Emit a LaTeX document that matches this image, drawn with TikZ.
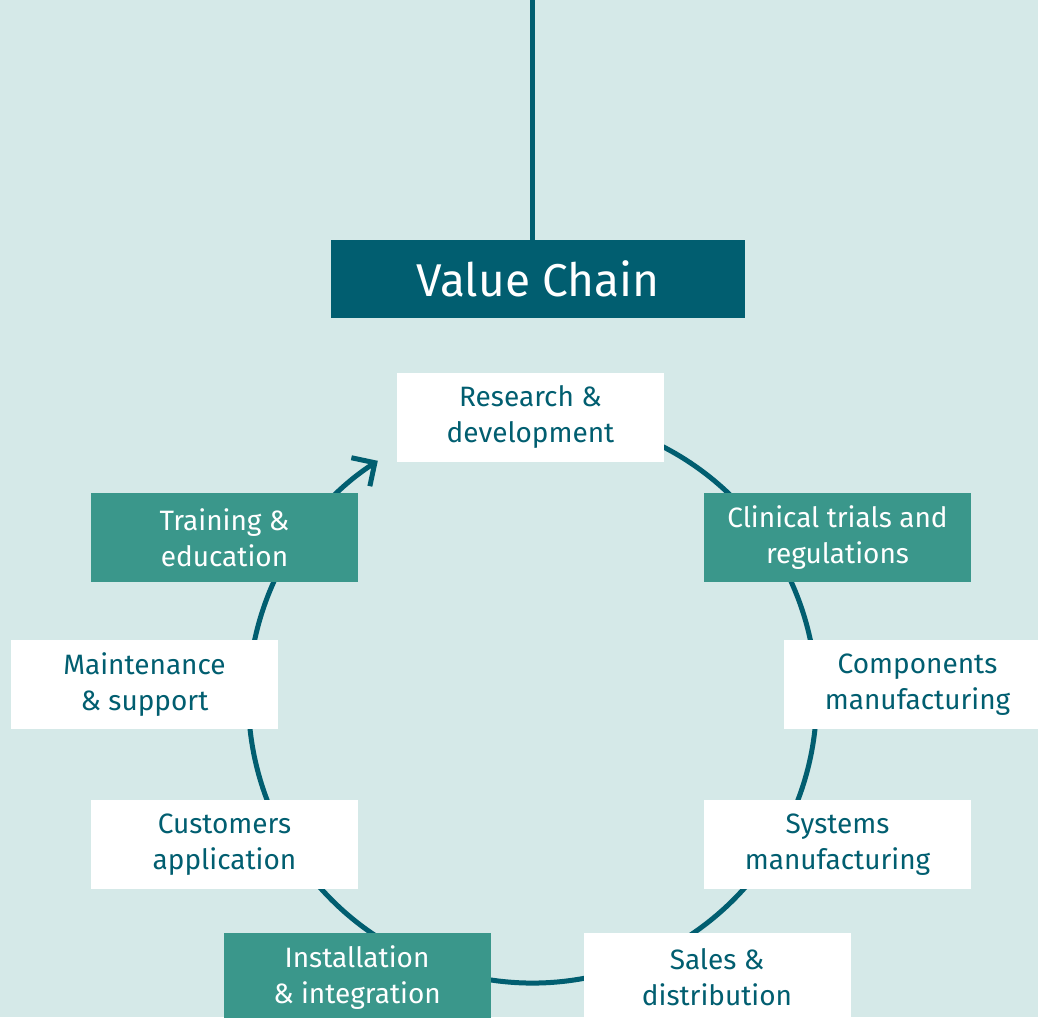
\documentclass[tikz,border=0pt]{standalone}
\usepackage{fontspec}
\setmainfont{Fira Sans}
\usetikzlibrary{arrows.meta}
\definecolor{bgteal}{HTML}{D5E9E8}
\definecolor{darkteal}{HTML}{015E70}
\definecolor{midteal}{HTML}{3A978B}
\begin{document}
\begin{tikzpicture}[x=1pt,y=1pt,
  stage/.style={minimum width=267pt,minimum height=89pt,inner sep=0pt,align=center,
    font=\fontsize{28}{36}\selectfont},
  lightstage/.style={stage,fill=white,text=darkteal},
  accentstage/.style={stage,fill=midteal,text=white},
  ring/.style={draw=darkteal,line width=5pt}]
  % canvas
  \useasboundingbox (0,0) rectangle (1038,1017);
  \fill[bgteal] (0,0) rectangle (1038,1017);
  \clip (0,0) rectangle (1038,1017);

  % cycle ring, running clockwise and ending in an open arrow head
  \coordinate (ctr) at (532.5,318);
  \draw[ring,-{Straight Barb[angle=90:24pt,line width=5pt]}]
    ([shift={(70:284)}]ctr) arc[start angle=70,end angle=-237,radius=284];

  % title
  \node[fill=darkteal,text=white,minimum width=414pt,minimum height=78pt,inner sep=0pt,
    font=\fontsize{46}{52}\selectfont] (title) at (538,738) {Value Chain};
  \coordinate (top) at (532.5,1017);
  \draw[darkteal,line width=5pt] (top) -- (top |- title.north);

  % stages
  \node[lightstage]  (rd)    at (530.5,599.5) {Research \&\\development};
  \node[accentstage] (clin)  at (837.5,479.5) {Clinical trials and\\regulations};
  \node[lightstage]  (comp)  at (917.5,332.5) {Components\\manufacturing};
  \node[lightstage]  (sys)   at (837.5,172.5) {Systems\\manufacturing};
  \node[lightstage]  (sales) at (717,39.5)    {Sales \&\\distribution};
  \node[accentstage] (inst)  at (357,39.5)    {Installation\\\& integration};
  \node[lightstage]  (cust)  at (224.5,172.5) {Customers\\application};
  \node[lightstage]  (maint) at (144.5,332.5) {Maintenance\\\& support};
  \node[accentstage] (train) at (224.5,479.5) {Training \&\\education};
\end{tikzpicture}
\end{document}
